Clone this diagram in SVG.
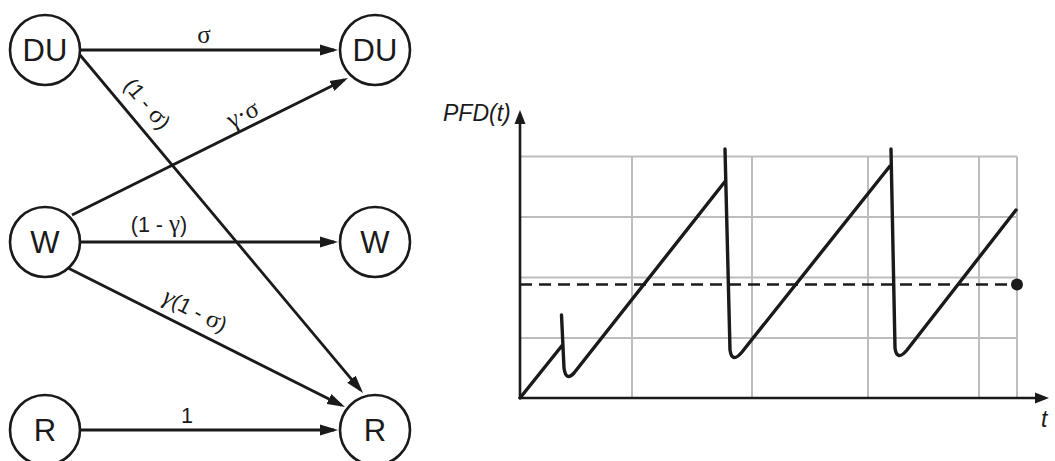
<svg xmlns="http://www.w3.org/2000/svg" width="1055" height="461" viewBox="0 0 1055 461">
<style>
.node circle{fill:#fff;stroke:#1a1a1a;stroke-width:2.6}
.node text{font-family:"Liberation Sans",Arial,sans-serif;font-size:31px;fill:#1a1a1a;text-anchor:middle}
.edge{stroke:#1a1a1a;stroke-width:2.8;fill:none;marker-end:url(#arr)}
.lbl{font-family:"Liberation Sans",Arial,sans-serif;font-size:21.5px;fill:#1a1a1a;text-anchor:middle}
.gr{font-family:"Liberation Serif","Times New Roman",serif;font-size:25px}
.grid{stroke:#bdbdbd;stroke-width:2;fill:none}
.axis{stroke:#1a1a1a;stroke-width:2.6;fill:none}
.curve{stroke:#1a1a1a;stroke-width:3.4;fill:none;stroke-linejoin:round;stroke-linecap:round}
.ax{font-family:"Liberation Sans",Arial,sans-serif;font-size:23px;font-style:italic;fill:#1a1a1a}
</style>
<defs>
<marker id="arr" markerUnits="userSpaceOnUse" markerWidth="20" markerHeight="12" refX="14" refY="6" orient="auto">
<path d="M0,0.5 L18,6 L0,11.5 Z" fill="#1a1a1a"/>
</marker>
<marker id="axarr" markerUnits="userSpaceOnUse" markerWidth="16" markerHeight="12" refX="10" refY="6" orient="auto">
<path d="M0,0.5 L14,6 L0,11.5 Z" fill="#1a1a1a"/>
</marker>
</defs>
<rect width="1055" height="461" fill="#fff"/>

<g id="connectors">
<line class="edge" x1="80" y1="50" x2="334" y2="50"/>
<line class="edge" x1="80" y1="55" x2="360.4" y2="389.9"/>
<line class="edge" x1="72" y1="215" x2="344.4" y2="79.8"/>
<line class="edge" x1="80" y1="242" x2="334" y2="242"/>
<line class="edge" x1="68" y1="268" x2="341.4" y2="405.2"/>
<line class="edge" x1="80" y1="430" x2="334" y2="430"/>
<text class="lbl" x="204" y="43"><tspan class="gr">σ</tspan></text>
<text class="lbl" transform="translate(147,104) rotate(50)" y="7">(1 - <tspan class="gr">σ</tspan>)</text>
<text class="lbl" transform="translate(243,115) rotate(-26.4)" y="7"><tspan class="gr">γ·σ</tspan></text>
<text class="lbl" x="159" y="232">(1 - <tspan class="gr">γ</tspan>)</text>
<text class="lbl" transform="translate(195,311) rotate(26.8)" y="7"><tspan class="gr" font-style="italic">γ</tspan>(1 - <tspan class="gr">σ</tspan>)</text>
<text class="lbl" x="187" y="423">1</text>
</g>

<g id="du-left" class="node"><circle cx="45" cy="50" r="35"/><text x="45" y="61">DU</text></g>
<g id="du-right" class="node"><circle cx="375" cy="50" r="35"/><text x="375" y="61">DU</text></g>
<g id="w-left" class="node"><circle cx="45" cy="242" r="35"/><text x="45" y="253">W</text></g>
<g id="w-right" class="node"><circle cx="375" cy="242" r="35"/><text x="375" y="253">W</text></g>
<g id="r-left" class="node"><circle cx="45" cy="430" r="35"/><text x="45" y="441">R</text></g>
<g id="r-right" class="node"><circle cx="375" cy="430" r="35"/><text x="375" y="441">R</text></g>

<g id="chart">
<path class="grid" d="M520,156.5H1017 M520,217H1017 M520,277.5H1017 M520,338H1017 M632,156.5V398 M752,156.5V398 M868,156.5V398 M979,156.5V398 M1017,156.5V398"/>
<line x1="520" y1="284.5" x2="1012" y2="284.5" stroke="#1a1a1a" stroke-width="2.6" stroke-dasharray="12,7"/>
<circle cx="1017" cy="284.5" r="6" fill="#1a1a1a"/>
<line class="axis" x1="520" y1="399" x2="520" y2="114" marker-end="url(#axarr)"/>
<line class="axis" x1="519" y1="398" x2="1045" y2="398" marker-end="url(#axarr)"/>
<path class="curve" d="M520,398 L562.5,345 M561.5,315 L564,368 Q566,382 574,373 L725,181.5 M725,149 L730,350 Q732,364 742,352 L890,166 M891,149 L895,348 Q897,362 907,350 L1016,210"/>
<text class="ax" x="443" y="121">PFD(t)</text>
<text class="ax" x="1041" y="427">t</text>
</g>
</svg>
